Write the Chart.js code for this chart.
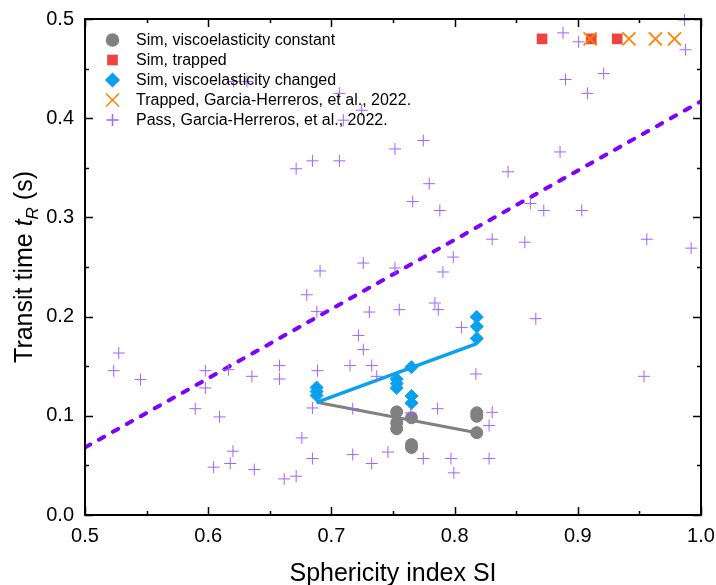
<!DOCTYPE html>
<html>
<head>
<meta charset="utf-8">
<script src="https://cdn.jsdelivr.net/npm/chart.js@4.4.1/dist/chart.umd.min.js"></script>
<style>
  html, body { margin: 0; padding: 0; background: #fff; }
  #wrap { width: 716px; height: 585px; }
</style>
</head>
<body>
<div id="wrap"><canvas id="siChart" width="716" height="585"></canvas></div>
<script>
// Simulation, viscoelasticity constant
const constSI = [0.753, 0.753, 0.753, 0.765, 0.765, 0.765, 0.818, 0.818, 0.818];
const constT  = [0.104, 0.093, 0.087, 0.098, 0.071, 0.068, 0.103, 0.0995, 0.083];
const constFitSI = [0.688, 0.818];
const constFitT  = [0.1136, 0.083];

// Simulation, trapped cells
const trappedSimSI = [0.871, 0.911, 0.932];
const trappedSimT  = [0.48, 0.48, 0.48];

// Simulation, viscoelasticity changed
const changedSI = [0.688, 0.688, 0.688, 0.753, 0.753, 0.753, 0.765, 0.765, 0.765, 0.818, 0.818, 0.818];
const changedT  = [0.1285, 0.1245, 0.1205, 0.137, 0.1325, 0.128, 0.149, 0.120, 0.113, 0.1996, 0.190, 0.178];
const changedFitSI = [0.688, 0.818];
const changedFitT  = [0.1136, 0.1727];

// Experiments (Garcia-Herreros et al., 2022)
const trappedExpSI = [0.910, 0.9415, 0.963, 0.9785];
const trappedExpT  = [0.48, 0.48, 0.48, 0.48];

const passSI = [0.6206, 0.6314, 0.7065, 0.7246, 0.7097, 0.7516, 0.6714, 0.6846, 0.7065, 0.7259, 0.6908, 0.7516,
  0.888, 0.9007, 0.9866, 0.9874, 0.890, 0.921, 0.9078, 0.7746, 0.8856, 0.8434, 0.7794, 0.766, 0.788, 0.8615,
  0.8724, 0.9032, 0.8305, 0.857, 0.956, 0.992, 0.7989, 0.7905,
  0.680, 0.6882, 0.7308, 0.7551, 0.7219, 0.7259, 0.7151, 0.7327, 0.7368, 0.6887, 0.5274, 0.5233, 0.545, 0.5977,
  0.5977, 0.6165, 0.6355, 0.6579, 0.6579, 0.5895, 0.6092, 0.6846, 0.7173, 0.676, 0.6201, 0.6179, 0.6044, 0.6374,
  0.6617, 0.6714, 0.6846, 0.7173, 0.7327, 0.7459,
  0.784, 0.7867, 0.8057, 0.8659, 0.8173, 0.9537, 0.7862, 0.7643, 0.8305, 0.828, 0.7746, 0.797, 0.828, 0.7994];
const passT = [0.437, 0.437, 0.425, 0.408, 0.398, 0.369, 0.349, 0.357, 0.357, 0.254, 0.246, 0.249,
  0.486, 0.477, 0.499, 0.469, 0.439, 0.445, 0.425, 0.3775, 0.366, 0.346, 0.334, 0.316, 0.307, 0.314,
  0.307, 0.307, 0.278, 0.275, 0.278, 0.269, 0.260, 0.245,
  0.222, 0.205, 0.2046, 0.207, 0.181, 0.1667, 0.1506, 0.1506, 0.1398, 0.1455, 0.1633, 0.1455, 0.1365, 0.1455,
  0.1281, 0.1465, 0.1398, 0.1506, 0.1371, 0.1072, 0.0989, 0.1079, 0.1072, 0.0777, 0.0643, 0.0519, 0.0482, 0.0458,
  0.0364, 0.0391, 0.0569, 0.0609, 0.0519, 0.0634,
  0.2137, 0.207, 0.1891, 0.1979, 0.1422, 0.1398, 0.1072, 0.1029, 0.1035, 0.0901, 0.0569, 0.0569, 0.0569, 0.0425];

// Linear trend of the experimental data
const trendSI = [0.5, 1.0];
const trendT  = [0.068, 0.417];

const xTicks = [0.5, 0.6, 0.7, 0.8, 0.9, 1.0];
const yTicks = [0.0, 0.1, 0.2, 0.3, 0.4, 0.5];

const GRAY = '#808080', RED = '#f24141', BLUE = '#0aa0f0', ORANGE = '#ff8200', PURPLE = '#a064ff', DASH = '#8000ff';
const FONT = '"Liberation Sans", Arial, sans-serif';

const pts = (xs, ys) => xs.map((x, i) => ({ x: x, y: ys[i] }));

const legendItems = [
  { text: 'Sim, viscoelasticity constant', style: 'circle', radius: 6, fill: GRAY, stroke: GRAY, width: 1 },
  { text: 'Sim, trapped', style: 'rect', radius: 7.5, fill: RED, stroke: RED, width: 0 },
  { text: 'Sim, viscoelasticity changed', style: 'rectRot', radius: 6.5, fill: BLUE, stroke: BLUE, width: 1 },
  { text: 'Trapped, Garcia-Herreros, et al., 2022.', style: 'crossRot', radius: 9.2, fill: ORANGE, stroke: ORANGE, width: 1.8 },
  { text: 'Pass, Garcia-Herreros, et al., 2022.', style: 'cross', radius: 6, fill: PURPLE, stroke: PURPLE, width: 1 }
];

// frame, inward ticks, axis titles and the legend box
const decorations = {
  id: 'decorations',
  afterDraw(chart) {
    const { ctx, chartArea: a, scales: { x, y } } = chart;
    ctx.save();
    ctx.strokeStyle = '#000';
    ctx.lineWidth = 2;
    ctx.strokeRect(a.left, a.top, a.right - a.left, a.bottom - a.top);

    ctx.lineWidth = 1.5;
    ctx.beginPath();
    for (let i = 0; i <= 10; i++) {
      const len = i % 2 === 0 ? 8 : 4;
      const px = Math.round(x.getPixelForValue(0.5 + i * 0.05)) + 0.5;
      ctx.moveTo(px, a.bottom); ctx.lineTo(px, a.bottom - len);
      ctx.moveTo(px, a.top); ctx.lineTo(px, a.top + len);
      const py = Math.round(y.getPixelForValue(i * 0.05)) + 0.5;
      ctx.moveTo(a.left, py); ctx.lineTo(a.left + len, py);
      ctx.moveTo(a.right, py); ctx.lineTo(a.right - len, py);
    }
    ctx.stroke();

    // x title
    ctx.fillStyle = '#000';
    ctx.font = '25px ' + FONT;
    ctx.textAlign = 'center';
    ctx.textBaseline = 'alphabetic';
    ctx.fillText('Sphericity index SI', (a.left + a.right) / 2, 581);

    // y title with italic t and subscript R
    const parts = [
      { t: 'Transit time ', f: '25px ' + FONT, dy: 0 },
      { t: 't', f: 'italic 25px ' + FONT, dy: 0 },
      { t: 'R', f: 'italic 17px ' + FONT, dy: 6 },
      { t: ' (s)', f: '25px ' + FONT, dy: 0 }
    ];
    let total = 0;
    parts.forEach(p => { ctx.font = p.f; p.w = ctx.measureText(p.t).width; total += p.w; });
    ctx.save();
    ctx.translate(32, (a.top + a.bottom) / 2);
    ctx.rotate(-Math.PI / 2);
    ctx.textAlign = 'left';
    let cx = -total / 2;
    parts.forEach(p => { ctx.font = p.f; ctx.fillText(p.t, cx, p.dy); cx += p.w; });
    ctx.restore();

    // legend
    ctx.font = '16px ' + FONT;
    ctx.textBaseline = 'middle';
    ctx.textAlign = 'left';
    legendItems.forEach((it, i) => {
      const ly = 40 + i * 20;
      ctx.fillStyle = it.fill;
      ctx.strokeStyle = it.stroke;
      Chart.helpers.drawPoint(ctx, { pointStyle: it.style, radius: it.radius, rotation: 0, borderWidth: it.width }, 112.5, ly);
      ctx.fillStyle = '#000';
      ctx.fillText(it.text, 136, ly + 1);
    });
    ctx.restore();
  }
};

// keep the plot box at a fixed place regardless of tick label overhang
const noOverhang = s => { s.paddingLeft = 0; s.paddingRight = 0; s.paddingTop = 0; s.paddingBottom = 0; };

new Chart(document.getElementById('siChart'), {
  type: 'scatter',
  data: {
    datasets: [
      {
        label: 'Pass, Garcia-Herreros, et al., 2022.',
        data: pts(passSI, passT),
        pointStyle: 'cross', pointRadius: 6, borderColor: PURPLE, backgroundColor: PURPLE, pointBorderWidth: 1,
        clip: false, order: 0
      },
      {
        label: 'Trapped, Garcia-Herreros, et al., 2022.',
        data: pts(trappedExpSI, trappedExpT),
        pointStyle: 'crossRot', pointRadius: 9.2, borderColor: ORANGE, backgroundColor: ORANGE, pointBorderWidth: 1.8,
        clip: false, order: 1
      },
      {
        label: 'Sim, trapped',
        data: pts(trappedSimSI, trappedSimT),
        pointStyle: 'rect', pointRadius: 7.5, borderColor: RED, backgroundColor: RED, pointBorderWidth: 0,
        order: 2
      },
      {
        label: 'Sim, viscoelasticity changed',
        data: pts(changedSI, changedT),
        pointStyle: 'rectRot', pointRadius: 6.5, borderColor: BLUE, backgroundColor: BLUE, pointBorderWidth: 1,
        order: 3
      },
      {
        label: 'changed fit',
        data: pts(changedFitSI, changedFitT),
        showLine: true, borderColor: BLUE, borderWidth: 3.5, pointRadius: 0, order: 4
      },
      {
        label: 'Sim, viscoelasticity constant',
        data: pts(constSI, constT),
        pointStyle: 'circle', pointRadius: 6, borderColor: GRAY, backgroundColor: GRAY, pointBorderWidth: 1,
        order: 5
      },
      {
        label: 'constant fit',
        data: pts(constFitSI, constFitT),
        showLine: true, borderColor: GRAY, borderWidth: 3, pointRadius: 0, order: 6
      },
      {
        label: 'trend',
        data: pts(trendSI, trendT),
        showLine: true, borderColor: DASH, borderWidth: 4, borderDash: [6, 10], borderCapStyle: 'round',
        pointRadius: 0, order: 7
      }
    ]
  },
  options: {
    responsive: false,
    animation: false,
    events: [],
    layout: { padding: { top: 19, right: 15, bottom: 0, left: 0 } },
    plugins: { legend: { display: false }, tooltip: { enabled: false } },
    scales: {
      x: {
        type: 'linear', min: 0.5, max: 1.0,
        afterBuildTicks: s => { s.ticks = xTicks.map(v => ({ value: v })); },
        afterFit: s => { s.height = 70; noOverhang(s); },
        grid: { display: false, drawTicks: false },
        border: { display: false },
        ticks: { padding: 9, color: '#000', font: { size: 20, family: FONT }, callback: v => v.toFixed(1) }
      },
      y: {
        type: 'linear', min: 0, max: 0.5,
        afterBuildTicks: s => { s.ticks = yTicks.map(v => ({ value: v })); },
        afterFit: s => { s.width = 85; noOverhang(s); },
        grid: { display: false, drawTicks: false },
        border: { display: false },
        ticks: { padding: 11, color: '#000', font: { size: 20, family: FONT }, callback: v => v.toFixed(1) }
      }
    }
  },
  plugins: [decorations]
});
</script>
</body>
</html>
